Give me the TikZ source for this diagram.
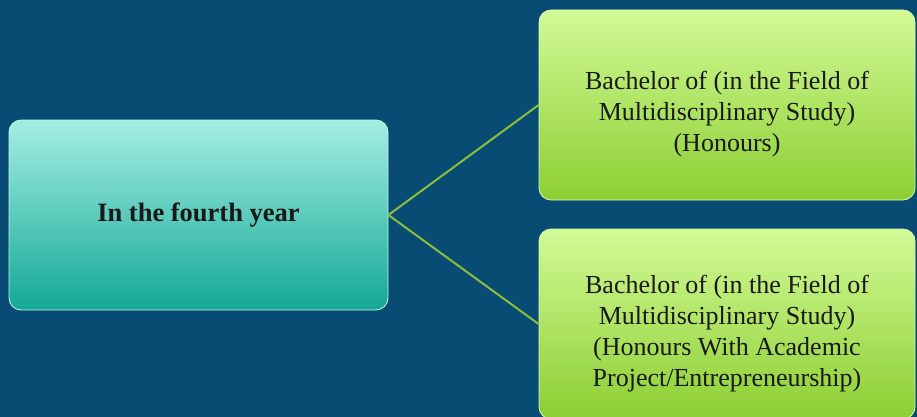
\documentclass[tikz,border=0pt]{standalone}
\usepackage{fontspec}
\setmainfont{Liberation Serif}
\begin{document}
\begin{tikzpicture}[x=1pt,y=-1pt,
  bg/.style={fill=bgblue},
  tealbox/.style={rounded corners=12pt, top color=tealtop, bottom color=tealbot, draw=tealedge, line width=0.8pt,
    minimum width=379pt, minimum height=190pt, inner sep=0pt, font=\fontsize{26.5}{30}\selectfont\bfseries, text=black!90},
  greenbox/.style={rounded corners=12pt, top color=greentop, bottom color=greenbot, draw=greenedge, line width=0.8pt,
    minimum width=376pt, minimum height=190pt, inner sep=0pt},
  greentext/.style={align=center, inner sep=0pt, font=\fontsize{26}{31}\selectfont, text=black!90},
  link/.style={draw=linkgreen, line width=2pt}
]
\definecolor{bgblue}{RGB}{9,76,115}
\definecolor{tealtop}{RGB}{164,238,226}
\definecolor{tealbot}{RGB}{20,168,150}
\definecolor{tealedge}{RGB}{190,244,236}
\definecolor{greentop}{RGB}{210,250,150}
\definecolor{greenbot}{RGB}{140,206,50}
\definecolor{greenedge}{RGB}{215,250,175}
\definecolor{linkgreen}{RGB}{140,190,60}
\clip (0,0) rectangle (917,417);
\fill[bg] (0,0) rectangle (917,417);
\node[tealbox] (L) at (198.5,215) {In the fourth year};
\node[greenbox] (T) at (727,105) {};
\node[greentext] (Tt) at (727,114) {Bachelor of (in the Field of\\Multidisciplinary Study)\\(Honours)};
\node[greenbox] (B) at (727,324) {};
\node[greentext] (Bt) at (727,334) {Bachelor of (in the Field of\\Multidisciplinary Study)\\(Honours With Academic\\Project/Entrepreneurship)};
\draw[link] (L.east) -- (T.west);
\draw[link] (L.east) -- (B.west);
\end{tikzpicture}
\end{document}
